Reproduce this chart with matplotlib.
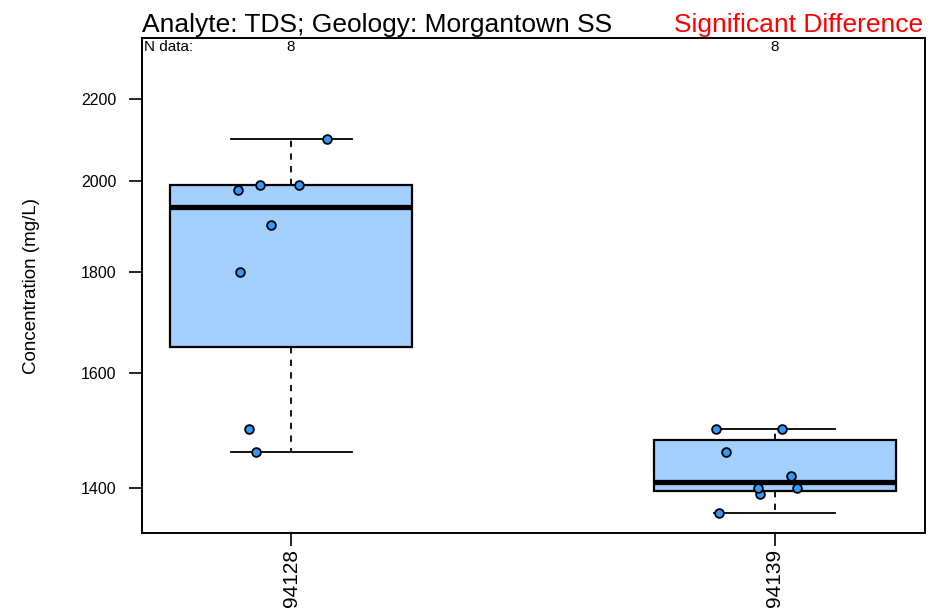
import math
import matplotlib
matplotlib.use("Agg")
import matplotlib.pyplot as plt
from matplotlib.ticker import FixedLocator, NullLocator, FixedFormatter

plt.rcParams['font.family'] = ['Liberation Sans', 'DejaVu Sans']

# TDS concentrations (mg/L) per well
wells = ['94128', '94139']
tds = [
    [1460, 1500, 1800, 1900, 1980, 1990, 1990, 2100],
    [1360, 1390, 1400, 1400, 1420, 1460, 1500, 1500],
]
# horizontal jitter of the points, same order as tds
jitter = [
    [-0.072, -0.087, -0.105, -0.041, -0.110, -0.064, 0.017, 0.074],
    [-0.116, -0.031, -0.035, 0.045, 0.033, -0.101, -0.122, 0.014],
]
yticks = [1400, 1600, 1800, 2000, 2200]


def fivenum(values):
    v = sorted(values)
    n = len(v)
    n4 = math.floor((n + 3) / 2) / 2
    d = [1, n4, (n + 1) / 2, n + 1 - n4, n]
    return [0.5 * (v[math.floor(x - 1)] + v[math.ceil(x - 1)]) for x in d]


stats = []
for name, vals in zip(wells, tds):
    lo, q1, med, q3, hi = fivenum(vals)
    stats.append(dict(label=name, whislo=lo, q1=q1, med=med, q3=q3,
                      whishi=hi, fliers=[]))

fig = plt.figure(figsize=(9.3, 6.13), dpi=100)
ax = fig.add_axes([0.1527, 0.1305, 0.8419, 0.8075])
ax.set_yscale('log')

pos = list(range(1, len(wells) + 1))
ax.bxp(stats, positions=pos, widths=0.5, capwidths=0.25, patch_artist=True,
       boxprops=dict(facecolor='#A3CFFE', edgecolor='black', linewidth=1.6),
       medianprops=dict(color='black', linewidth=3.8, solid_capstyle='butt'),
       whiskerprops=dict(color='black', linewidth=1.3, linestyle=(0, (3.5, 3.5))),
       capprops=dict(color='black', linewidth=1.3), zorder=2)

for p, vals, jit in zip(pos, tds, jitter):
    ax.plot([p + j for j in jit], vals, 'o', ms=6.3, mfc='#3399FF',
            mec='black', mew=1.3, zorder=4)

ax.set_xlim(0.692, 2.31)
ax.set_ylim(1329, 2361)
ax.yaxis.set_major_locator(FixedLocator(yticks))
ax.yaxis.set_major_formatter(FixedFormatter([str(t) for t in yticks]))
ax.yaxis.set_minor_locator(NullLocator())
ax.set_xticks(pos)
ax.set_xticklabels(wells, rotation=90, fontsize=15)
ax.tick_params(axis='y', length=9.5, width=1.2, pad=9, labelsize=11.5)
ax.tick_params(axis='x', length=9.5, width=1.2, pad=2)
for s in ax.spines.values():
    s.set_linewidth(1.4)

ax.set_ylabel('Concentration (mg/L)', fontsize=13.5, labelpad=29)

ax.text(0.0, 1.003, 'Analyte: TDS; Geology: Morgantown SS', transform=ax.transAxes,
        ha='left', va='bottom', fontsize=19)
ax.text(0.998, 1.003, 'Significant Difference', transform=ax.transAxes,
        ha='right', va='bottom', fontsize=19, color='red')

ax.text(0.003, 0.996, 'N data:', transform=ax.transAxes, ha='left', va='top',
        fontsize=11)
for p, vals in zip(pos, tds):
    ax.text(p, 0.996, str(len(vals)), transform=ax.get_xaxis_transform(),
            ha='center', va='top', fontsize=11)

fig.savefig('out.png', dpi=100)
